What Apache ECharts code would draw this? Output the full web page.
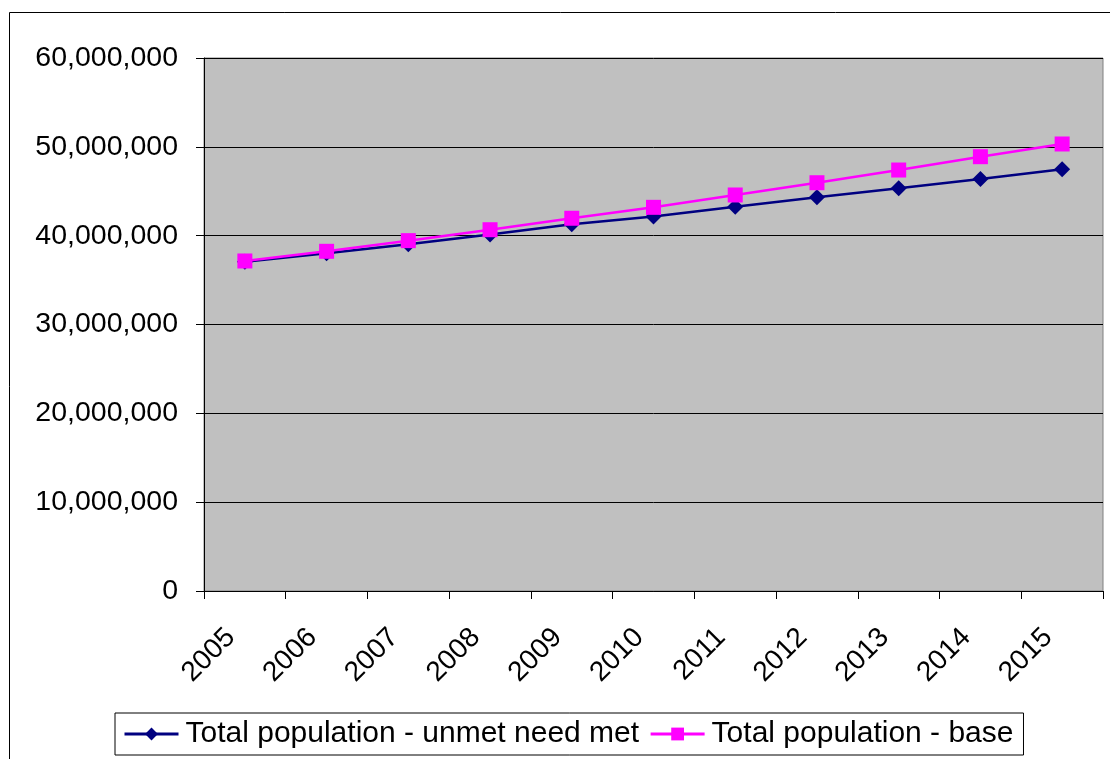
<!DOCTYPE html>
<html>
<head>
<meta charset="utf-8">
<style>
  html, body { margin: 0; padding: 0; background: #ffffff; }
  #chart { width: 1110px; height: 759px; }
</style>
<script src="https://cdn.jsdelivr.net/npm/echarts@6/dist/echarts.min.js"></script>
</head>
<body>
<div id="chart"></div>
<script>
// Years on the category axis
const years = ['2005', '2006', '2007', '2008', '2009', '2010', '2011', '2012', '2013', '2014', '2015'];

// Total population projections
const unmetNeedMet = [37060000, 38030000, 39040000, 40130000, 41290000, 42170000, 43260000, 44320000, 45330000, 46380000, 47470000];
const basePopulation = [37150000, 38240000, 39440000, 40670000, 41960000, 43190000, 44580000, 45960000, 47390000, 48890000, 50320000];

const seriesNames = ['Total population - unmet need met', 'Total population - base'];

// Value axis range
const yMin = 0;
const yMax = 60000000;
const yStep = 10000000;

const fontFamily = '"Liberation Sans", Arial, sans-serif';

const chart = echarts.init(document.getElementById('chart'), null, { renderer: 'canvas' });

chart.setOption({
  animation: false,
  backgroundColor: '#ffffff',
  graphic: [
    {
      type: 'rect',
      shape: { x: 9.5, y: 12.5, width: 1200, height: 800 },
      style: { fill: 'none', stroke: '#000000', lineWidth: 1 },
      silent: true,
      z: -1
    }
  ],
  grid: {
    left: 204,
    top: 58,
    right: 7,
    bottom: 168,
    show: true,
    backgroundColor: '#c0c0c0',
    borderColor: '#808080',
    borderWidth: 1
  },
  legend: {
    left: 115,
    top: 713,
    orient: 'horizontal',
    borderColor: '#000000',
    borderWidth: 1,
    borderRadius: 0,
    padding: [6, 10, 6, 8],
    itemGap: 10,
    itemWidth: 54,
    itemHeight: 16,
    lineStyle: { width: 3 },
    textStyle: { fontFamily: fontFamily, fontSize: 30, color: '#000000', padding: [0, 0, 0, 2] },
    data: seriesNames
  },
  xAxis: {
    type: 'category',
    data: years,
    boundaryGap: true,
    axisLine: { show: true, lineStyle: { color: '#000000', width: 1 } },
    axisTick: { show: true, inside: false, length: 8, lineStyle: { color: '#000000' } },
    axisLabel: {
      rotate: 45,
      margin: 28,
      padding: [0, 20, 0, 0],
      fontFamily: fontFamily,
      fontSize: 28,
      color: '#000000'
    },
    splitLine: { show: false }
  },
  yAxis: {
    type: 'value',
    min: yMin,
    max: yMax,
    interval: yStep,
    axisLine: { show: true, lineStyle: { color: '#000000', width: 1 } },
    axisTick: { show: true, inside: false, length: 8, lineStyle: { color: '#000000' } },
    axisLabel: {
      margin: 26,
      fontFamily: fontFamily,
      fontSize: 28.5,
      color: '#000000',
      formatter: function (v) { return v.toLocaleString('en-US'); }
    },
    splitLine: { show: true, lineStyle: { color: '#000000', width: 1 } }
  },
  series: [
    {
      name: seriesNames[0],
      type: 'line',
      data: unmetNeedMet,
      symbol: 'diamond',
      symbolSize: 16,
      showAllSymbol: true,
      lineStyle: { color: '#000080', width: 2.5 },
      itemStyle: { color: '#000080' },
      z: 2
    },
    {
      name: seriesNames[1],
      type: 'line',
      data: basePopulation,
      symbol: 'rect',
      symbolSize: 15,
      showAllSymbol: true,
      lineStyle: { color: '#ff00ff', width: 2.5 },
      itemStyle: { color: '#ff00ff' },
      z: 3
    }
  ]
});
</script>
</body>
</html>
